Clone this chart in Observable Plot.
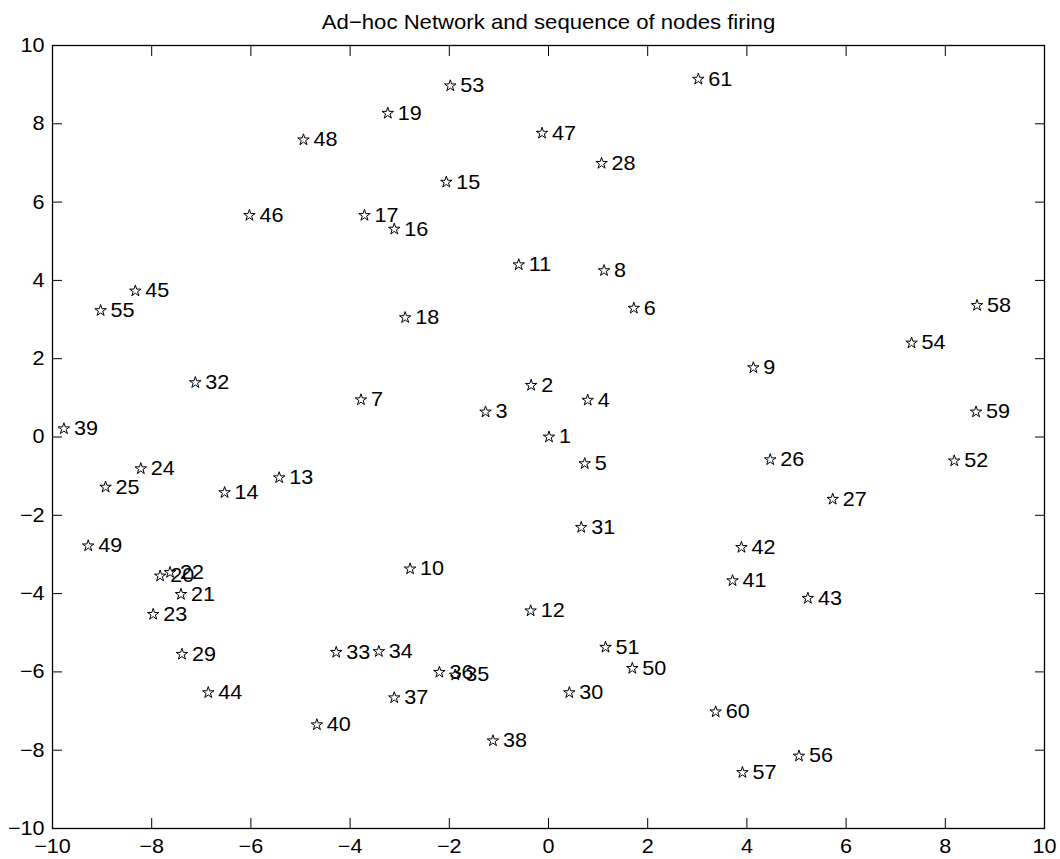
<!DOCTYPE html>
<html><head><meta charset="utf-8">
<script src="https://cdn.jsdelivr.net/npm/d3@7"></script>
<script src="https://cdn.jsdelivr.net/npm/@observablehq/plot@0.6"></script>
<style>html,body{margin:0;padding:0;background:#fff} svg{display:block}</style>
</head><body><div id="chart"></div>
<script>
const title = "Ad\u2212hoc Network and sequence of nodes firing";
const nodeIds = [1,2,3,4,5,6,7,8,9,10,11,12,13,14,15,16,17,18,19,20,21,22,23,24,25,26,27,28,29,30,31,32,33,34,35,36,37,38,39,40,41,42,43,44,45,46,47,48,49,50,51,52,53,54,55,56,57,58,59,60,61];
const nodeX = [0.01,-0.35,-1.27,0.79,0.73,1.72,-3.78,1.12,4.13,-2.79,-0.60,-0.36,-5.43,-6.53,-2.06,-3.11,-3.71,-2.89,-3.24,-7.83,-7.41,-7.63,-7.97,-8.22,-8.93,4.47,5.73,1.07,-7.39,0.42,0.66,-7.12,-4.28,-3.42,-1.88,-2.20,-3.11,-1.12,-9.77,-4.67,3.71,3.89,5.23,-6.86,-8.33,-6.03,-0.13,-4.94,-9.28,1.69,1.15,8.18,-1.98,7.32,-9.03,5.05,3.91,8.64,8.62,3.37,3.02];
const nodeY = [0.00,1.32,0.64,0.94,-0.68,3.29,0.95,4.25,1.77,-3.37,4.40,-4.44,-1.04,-1.42,6.51,5.31,5.66,3.05,8.27,-3.55,-4.02,-3.46,-4.53,-0.81,-1.28,-0.58,-1.59,6.99,-5.55,-6.53,-2.31,1.39,-5.50,-5.48,-6.08,-6.01,-6.66,-7.76,0.21,-7.35,-3.67,-2.82,-4.12,-6.53,3.73,5.66,7.76,7.59,-2.78,-5.91,-5.37,-0.61,8.97,2.40,3.23,-8.15,-8.57,3.36,0.64,-7.02,9.14];
const xTicks = [-10,-8,-6,-4,-2,0,2,4,6,8,10];
const yTicks = [-10,-8,-6,-4,-2,0,2,4,6,8,10];

const nodes = nodeIds.map((id, i) => ({id, x: nodeX[i], y: nodeY[i]}));
const font = "'Liberation Sans', Arial, Helvetica, sans-serif";
const fs = 20;
const stretch = 1.08;

const chart = Plot.plot({
  width: 1060,
  height: 859,
  marginLeft: 52,
  marginRight: 16,
  marginTop: 45,
  marginBottom: 31,
  style: {fontFamily: font, fontSize: fs + "px", color: "black", background: "white"},
  x: {domain: [-10, 10], label: null},
  y: {domain: [-10, 10], label: null},
  marks: [
    Plot.axisX(xTicks, {anchor: "bottom", tickSize: -10, tickPadding: 20, label: null, fontSize: fs, stroke: "black"}),
    Plot.axisX(xTicks, {anchor: "top", tickSize: -10, tickFormat: () => "", label: null, stroke: "black"}),
    Plot.axisY(yTicks, {anchor: "left", tickSize: -10, tickPadding: 18, label: null, fontSize: fs, stroke: "black"}),
    Plot.axisY(yTicks, {anchor: "right", tickSize: -10, tickFormat: () => "", label: null, stroke: "black"}),
    Plot.frame({stroke: "black", strokeWidth: 1.3}),
    Plot.dot(nodes, {x: "x", y: "y", symbol: "star", r: 3.6, stroke: "black", fill: "none", strokeWidth: 1}),
    Plot.text(nodes, {x: "x", y: "y", text: d => String(d.id), textAnchor: "start", dx: 10, fontSize: fs, fill: "black"}),
    Plot.text([title], {frameAnchor: "top", lineAnchor: "bottom", dy: -17, fontSize: 20.5, fill: "black"})
  ]
});

// The reference's glyphs are slightly wider than Liberation Sans: stretch text horizontally about its anchor.
d3.select(chart).selectAll("text").each(function() {
  const t = d3.select(this);
  const tr = t.attr("transform");
  if (tr) {
    t.attr("transform", tr + ` scale(${stretch},1)`);
  } else {
    const x = +(t.attr("x") || 0), y = +(t.attr("y") || 0);
    t.attr("x", null).attr("y", null).attr("transform", `translate(${x},${y}) scale(${stretch},1)`);
  }
});
document.getElementById("chart").append(chart);
</script>
</body></html>
